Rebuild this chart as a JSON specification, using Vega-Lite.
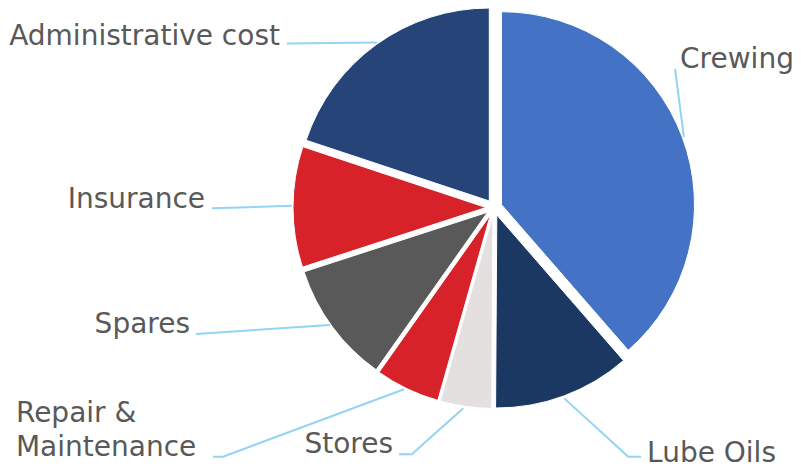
{
  "$schema": "https://vega.github.io/schema/vega-lite/v6.json",
  "width": 801,
  "height": 468,
  "autosize": {"type": "fit", "contains": "padding"},
  "padding": 0,
  "background": "white",
  "config": {"view": {"stroke": null}},
  "datasets": {
    "slices": [
      {"category": "Crewing", "value": 38.6},
      {"category": "Lube Oils", "value": 11.5},
      {"category": "Stores", "value": 4.3},
      {"category": "Repair & Maintenance", "value": 5.4},
      {"category": "Spares", "value": 10.2},
      {"category": "Insurance", "value": 10.1},
      {"category": "Administrative cost", "value": 19.9}
    ],
    "labels": [
      {"label": "Administrative cost", "text": "Administrative cost", "x": -110.9, "y": 84.2},
      {"label": "Insurance", "text": "Insurance", "x": -149.7, "y": -0.4},
      {"label": "Spares", "text": "Spares", "x": -157.5, "y": -65.0},
      {"label": "Stores", "text": "Stores", "x": -52.3, "y": -127.4},
      {"label": "Crewing", "text": "Crewing", "x": 96.4, "y": 72.3},
      {"label": "Lube Oils", "text": "Lube Oils", "x": 79.3, "y": -131.7},
      {"label": "Repair & Maintenance", "text": "Repair &\nMaintenance", "x": -247.7, "y": -111.0}
    ],
    "leaders": [
      {"label": "Administrative cost", "i": 0, "x": -107.3, "y": 85.0},
      {"label": "Administrative cost", "i": 1, "x": -60.6, "y": 85.5},
      {"label": "Crewing", "i": 0, "x": 93.8, "y": 71.8},
      {"label": "Crewing", "i": 1, "x": 98.4, "y": 36.5},
      {"label": "Insurance", "i": 0, "x": -146.1, "y": -0.4},
      {"label": "Insurance", "i": 1, "x": -104.7, "y": 0.9},
      {"label": "Spares", "i": 0, "x": -154.4, "y": -65.5},
      {"label": "Spares", "i": 1, "x": -85.0, "y": -60.9},
      {"label": "Repair & Maintenance", "i": 0, "x": -145.6, "y": -129.1},
      {"label": "Repair & Maintenance", "i": 1, "x": -140.4, "y": -129.1},
      {"label": "Repair & Maintenance", "i": 2, "x": -46.6, "y": -94.2},
      {"label": "Stores", "i": 0, "x": -49.2, "y": -127.9},
      {"label": "Stores", "i": 1, "x": -42.6, "y": -127.9},
      {"label": "Stores", "i": 2, "x": -15.9, "y": -104.0},
      {"label": "Lube Oils", "i": 0, "x": 76.2, "y": -129.1},
      {"label": "Lube Oils", "i": 1, "x": 69.6, "y": -129.1},
      {"label": "Lube Oils", "i": 2, "x": 36.4, "y": -98.9}
    ]
  },
  "layer": [
    {
      "data": {"name": "slices"},
      "transform": [{"stack": "value", "groupby": [], "as": ["start", "end"]}],
      "encoding": {
        "x": {"datum": 0, "type": "quantitative", "scale": {"domain": [-255.96, 159.07], "nice": false, "zero": false}, "axis": null},
        "y": {"datum": 0, "type": "quantitative", "scale": {"domain": [-134.97, 107.51], "nice": false, "zero": false}, "axis": null},
        "theta": {"field": "start", "type": "quantitative", "scale": {"domain": [0, 100], "range": [0, 6.283185307179586]}},
        "theta2": {"field": "end"},
        "color": {
          "field": "category",
          "type": "nominal",
          "scale": {
            "domain": ["Crewing", "Lube Oils", "Stores", "Repair & Maintenance", "Spares", "Insurance", "Administrative cost"],
            "range": ["#4472C4", "#1B3862", "#E5E0E0", "#D72229", "#595959", "#D72229", "#264478"]
          },
          "legend": null
        }
      },
      "layer": [
        {"transform": [{"filter": {"field": "category", "equal": "Crewing"}}], "mark": {"type": "arc", "radius": 193, "stroke": "white", "strokeWidth": 1, "xOffset": 7.5, "yOffset": -2.8}},
        {"transform": [{"filter": {"field": "category", "equal": "Lube Oils"}}], "mark": {"type": "arc", "radius": 193, "stroke": "white", "strokeWidth": 1, "xOffset": 2.8, "yOffset": 7.5}},
        {"transform": [{"filter": {"field": "category", "equal": "Stores"}}], "mark": {"type": "arc", "radius": 193, "stroke": "white", "strokeWidth": 1, "xOffset": -1.1, "yOffset": 7.9}},
        {"transform": [{"filter": {"field": "category", "equal": "Repair & Maintenance"}}], "mark": {"type": "arc", "radius": 193, "stroke": "white", "strokeWidth": 1, "xOffset": -3.5, "yOffset": 7.2}},
        {"transform": [{"filter": {"field": "category", "equal": "Spares"}}], "mark": {"type": "arc", "radius": 193, "stroke": "white", "strokeWidth": 1, "xOffset": -6.4, "yOffset": 4.7}},
        {"transform": [{"filter": {"field": "category", "equal": "Insurance"}}], "mark": {"type": "arc", "radius": 193, "stroke": "white", "strokeWidth": 1, "xOffset": -8.0, "yOffset": 0}},
        {"transform": [{"filter": {"field": "category", "equal": "Administrative cost"}}], "mark": {"type": "arc", "radius": 193, "stroke": "white", "strokeWidth": 1, "xOffset": -4.7, "yOffset": -6.5}}
      ]
    },
    {
      "data": {"name": "leaders"},
      "mark": {"type": "line", "color": "#93D4F5", "strokeWidth": 2},
      "encoding": {
        "x": {"field": "x", "type": "quantitative", "scale": {"domain": [-255.96, 159.07], "nice": false, "zero": false}, "axis": null},
        "y": {"field": "y", "type": "quantitative", "scale": {"domain": [-134.97, 107.51], "nice": false, "zero": false}, "axis": null},
        "detail": {"field": "label", "type": "nominal"},
        "order": {"field": "i", "type": "quantitative"}
      }
    },
    {
      "data": {"name": "labels"},
      "transform": [{"filter": {"field": "label", "oneOf": ["Administrative cost", "Insurance", "Spares", "Stores"]}}],
      "mark": {"type": "text", "align": "right", "baseline": "alphabetic", "font": "DejaVu Sans", "fontSize": 28, "color": "#595959"},
      "encoding": {
        "x": {"field": "x", "type": "quantitative", "scale": {"domain": [-255.96, 159.07], "nice": false, "zero": false}, "axis": null},
        "y": {"field": "y", "type": "quantitative", "scale": {"domain": [-134.97, 107.51], "nice": false, "zero": false}, "axis": null},
        "text": {"field": "text", "type": "nominal"}
      }
    },
    {
      "data": {"name": "labels"},
      "transform": [{"filter": {"field": "label", "oneOf": ["Crewing", "Lube Oils", "Repair & Maintenance"]}}],
      "mark": {"type": "text", "align": "left", "baseline": "alphabetic", "font": "DejaVu Sans", "fontSize": 28, "color": "#595959", "lineBreak": "\n", "lineHeight": 34.3},
      "encoding": {
        "x": {"field": "x", "type": "quantitative", "scale": {"domain": [-255.96, 159.07], "nice": false, "zero": false}, "axis": null},
        "y": {"field": "y", "type": "quantitative", "scale": {"domain": [-134.97, 107.51], "nice": false, "zero": false}, "axis": null},
        "text": {"field": "text", "type": "nominal"}
      }
    }
  ]
}
